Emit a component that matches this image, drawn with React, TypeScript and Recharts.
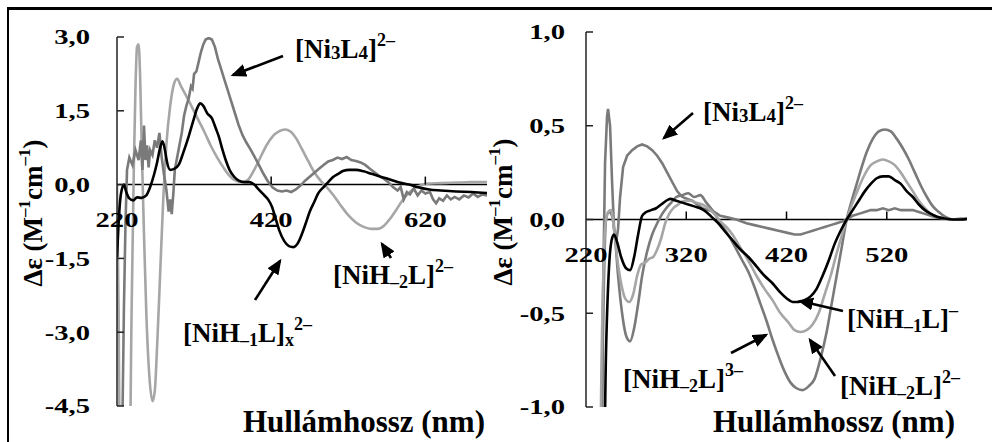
import React from 'react'
import { LineChart, Line, XAxis, YAxis, ReferenceLine } from 'recharts'

const SERIF = '"Liberation Serif", "Times New Roman", serif'
const BLACK = '#000000'
const DARK = '#7a7a7a'
const LIGHT = '#a6a6a6'

// ---- left panel: Δε vs wavelength, 220–700 nm ----
const leftTicksX = [220, 420, 620]
const leftTicksY = [-4.5, -3, -1.5, 0, 1.5, 3]

const nih1xNm = [220, 222, 225, 229, 232, 236, 241, 246, 252, 258, 263, 268, 272, 276, 279, 282, 285, 289, 294, 300, 306, 313, 319, 324, 328, 332, 337, 343, 348, 352, 357, 361, 366, 372, 378, 385, 392, 398, 404, 410, 416, 421, 426, 431, 437, 443, 449, 455, 460, 465, 470, 476, 481, 488, 494, 500, 507, 514, 521, 530, 540, 550, 560, 573, 585, 599, 612, 625, 640, 660, 680, 700]
const nih1xDe = [-1.47, -0.8, -0.2, 0.0, -0.15, -0.28, -0.32, -0.26, -0.27, -0.22, -0.05, 0.2, 0.45, 0.75, 0.88, 0.72, 0.45, 0.3, 0.32, 0.4, 0.65, 0.98, 1.3, 1.55, 1.65, 1.6, 1.45, 1.35, 1.15, 0.98, 0.7, 0.5, 0.3, 0.16, 0.08, 0.05, 0.05, 0.0, -0.1, -0.2, -0.3, -0.45, -0.7, -0.95, -1.15, -1.25, -1.27, -1.18, -1.0, -0.78, -0.55, -0.35, -0.18, -0.05, 0.05, 0.15, 0.22, 0.28, 0.3, 0.3, 0.27, 0.22, 0.17, 0.11, 0.05, 0.0, -0.06, -0.1, -0.12, -0.14, -0.15, -0.17]

const nih2LeftNm = [220, 222, 224, 236, 239, 242, 244, 246, 248, 250, 252, 255, 258, 262, 266, 269, 272, 276, 280, 284, 289, 294, 298, 303, 310, 318, 326, 334, 342, 350, 358, 366, 374, 382, 390, 398, 406, 414, 422, 430, 438, 445, 452, 460, 468, 476, 484, 492, 500, 510, 520, 530, 540, 550, 558, 566, 574, 582, 590, 598, 606, 615, 622, 640, 660, 680, 700]
const nih2LeftDe = [0.0, -2.5, -6, -6, -2.5, 0.5, 2.0, 2.8, 2.85, 2.2, 0.8, -1.0, -2.6, -3.9, -4.4, -4.2, -3.3, -1.8, -0.3, 0.8, 1.6, 2.05, 2.15, 2.0, 1.8, 1.55, 1.3, 1.05, 0.78, 0.55, 0.35, 0.18, 0.08, 0.05, 0.1, 0.3, 0.55, 0.8, 0.98, 1.08, 1.12, 1.08, 0.95, 0.72, 0.48, 0.25, 0.08, -0.05, -0.2, -0.42, -0.62, -0.77, -0.86, -0.9, -0.9, -0.84, -0.7, -0.52, -0.33, -0.18, -0.07, -0.01, 0.02, 0.03, 0.04, 0.05, 0.05]

const ni3l4LeftNm = [220, 226, 229, 231, 233, 236, 240, 244, 248, 251, 253, 255, 257, 259, 261, 263, 266, 269, 272, 275, 278, 281, 284, 287, 289, 291, 293, 295, 298, 301, 304, 307, 310, 313, 316, 318, 320, 323, 326, 329, 332, 335, 339, 343, 347, 351, 355, 359, 363, 368, 373, 378, 383, 388, 393, 398, 404, 410, 416, 422, 428, 434, 440, 446, 452, 458, 464, 470, 476, 482, 488, 494, 500, 506, 512, 518, 524, 530, 536, 542, 548, 554, 560, 566, 572, 578, 584, 588, 592, 596, 600, 605, 610, 615, 620, 626, 630, 634, 638, 643, 648, 653, 658, 664, 670, 676, 682, 688, 694, 700]
const ni3l4LeftDe = [-6, -6, -2.5, -0.8, 0.3, 0.55, 0.4, 0.7, 0.5, 0.9, 0.3, 1.2, 0.5, 0.8, 0.35, 0.7, 0.6, 0.9, 0.75, 1.05, 0.55, 0.2, -0.1, -0.55, -0.3, -0.6, -0.2, 0.3, 0.55, 0.8, 1.05, 1.4, 1.6, 1.75, 2.0, 1.95, 2.25, 2.3, 2.5, 2.7, 2.85, 2.95, 2.98, 2.95, 2.8, 2.55, 2.35, 2.15, 1.95, 1.7, 1.45, 1.2, 1.0, 0.85, 0.72, 0.58, 0.4, 0.22, 0.06, -0.06, -0.12, -0.14, -0.12, -0.15, -0.1, -0.02, 0.08, 0.16, 0.24, 0.32, 0.4, 0.47, 0.5, 0.55, 0.52, 0.56, 0.5, 0.48, 0.45, 0.4, 0.32, 0.25, 0.18, 0.12, 0.05, -0.05, -0.12, -0.05, -0.3, -0.15, -0.2, -0.08, -0.22, -0.12, -0.18, -0.15, -0.3, -0.38, -0.28, -0.33, -0.22, -0.3, -0.25, -0.3, -0.22, -0.26, -0.18, -0.25, -0.2, -0.22]

// ---- right panel: Δε vs wavelength, 220–600 nm ----
const rightTicksX = [220, 320, 420, 520]
const rightTicksY = [-1, -0.5, 0, 0.5, 1]

const nih1RightNm = [220, 236, 240, 243, 246, 248, 251, 255, 260, 264, 268, 272, 276, 280, 285, 290, 295, 300, 304, 310, 316, 322, 328, 334, 340, 346, 352, 358, 366, 374, 382, 390, 398, 406, 414, 420, 426, 432, 438, 444, 450, 456, 462, 468, 474, 480, 486, 492, 498, 504, 510, 516, 522, 528, 534, 540, 546, 552, 558, 564, 570, 578, 586, 594, 600]
const nih1RightDe = [-2, -2, -0.7, -0.25, -0.1, -0.08, -0.12, -0.2, -0.26, -0.27, -0.2, -0.08, 0.02, 0.04, 0.05, 0.06, 0.08, 0.1, 0.11, 0.1, 0.09, 0.08, 0.07, 0.06, 0.04, 0.01, -0.02, -0.06, -0.11, -0.16, -0.2, -0.25, -0.3, -0.34, -0.39, -0.42, -0.44, -0.44, -0.43, -0.41, -0.37, -0.3, -0.22, -0.13, -0.06, 0.0, 0.05, 0.1, 0.15, 0.19, 0.22, 0.23, 0.23, 0.21, 0.19, 0.15, 0.12, 0.08, 0.05, 0.03, 0.015, 0.005, 0.0, 0.0, 0.005]

const nih2RightNm = [220, 232, 236, 239, 242, 245, 248, 251, 255, 259, 263, 267, 271, 275, 279, 283, 287, 291, 295, 299, 303, 307, 312, 318, 324, 330, 336, 342, 348, 354, 360, 366, 374, 382, 390, 398, 406, 414, 422, 428, 434, 440, 446, 452, 458, 464, 470, 476, 480, 486, 492, 498, 504, 510, 516, 522, 528, 534, 540, 546, 552, 558, 564, 570, 578, 586, 600]
const nih2RightDe = [-2, -2, -0.6, -0.05, 0.04, 0.05, -0.05, -0.2, -0.34, -0.42, -0.44, -0.4, -0.3, -0.24, -0.23, -0.21, -0.2, -0.16, -0.1, -0.02, 0.03, 0.06, 0.08, 0.1, 0.1, 0.09, 0.08, 0.06, 0.03, -0.01, -0.04, -0.08, -0.15, -0.22, -0.3, -0.37, -0.43, -0.5, -0.55, -0.59, -0.6, -0.59, -0.56, -0.5, -0.4, -0.3, -0.18, -0.07, 0.0, 0.09, 0.17, 0.24, 0.29, 0.31, 0.32, 0.31, 0.29, 0.25, 0.2, 0.15, 0.1, 0.06, 0.03, 0.015, 0.005, 0.0, 0.0]

const nih2TriNm = [220, 234, 237, 240, 243, 246, 249, 252, 256, 260, 264, 268, 272, 276, 281, 286, 291, 296, 300, 305, 310, 316, 322, 328, 334, 340, 346, 352, 358, 364, 370, 376, 382, 388, 394, 400, 406, 412, 418, 424, 430, 436, 442, 448, 454, 460, 465, 470, 475, 480, 485, 490, 495, 500, 506, 512, 518, 524, 530, 536, 542, 548, 554, 560, 566, 572, 578, 586, 594, 600]
const nih2TriDe = [-2, -2, -0.6, 0.0, 0.04, 0.02, -0.1, -0.3, -0.5, -0.62, -0.65, -0.58, -0.45, -0.3, -0.17, -0.08, -0.02, 0.03, 0.06, 0.09, 0.12, 0.13, 0.14, 0.12, 0.13, 0.09, 0.05, 0.0, -0.05, -0.1, -0.16, -0.22, -0.28, -0.36, -0.45, -0.54, -0.64, -0.73, -0.81, -0.87, -0.9, -0.91, -0.89, -0.85, -0.74, -0.6, -0.45, -0.3, -0.15, 0.0, 0.1, 0.19, 0.28, 0.36, 0.43, 0.47, 0.48, 0.47, 0.43, 0.38, 0.32, 0.25, 0.18, 0.12, 0.07, 0.04, 0.015, 0.0, 0.005, 0.0]

const ni3l4RightNm = [220, 234, 237, 239, 241, 242, 244, 246, 248, 250, 252, 254, 257, 261, 266, 271, 276, 281, 286, 291, 296, 301, 306, 311, 316, 321, 326, 331, 336, 342, 348, 354, 362, 370, 380, 388, 396, 404, 412, 420, 428, 434, 440, 446, 452, 458, 464, 470, 476, 480, 486, 492, 498, 504, 510, 516, 522, 528, 534, 540, 546, 552, 558, 564, 570, 578, 586, 600]
const ni3l4RightDe = [-2, -2, -0.4, 0.3, 0.55, 0.59, 0.5, 0.2, -0.05, -0.12, -0.05, 0.12, 0.28, 0.34, 0.37, 0.39, 0.4, 0.39, 0.37, 0.34, 0.3, 0.25, 0.2, 0.15, 0.12, 0.11, 0.1, 0.08, 0.06, 0.05, 0.04, 0.02, 0.01, 0.0, -0.02, -0.03, -0.04, -0.05, -0.06, -0.07, -0.08, -0.08, -0.07, -0.06, -0.05, -0.04, -0.03, -0.02, -0.01, 0.0, 0.02, 0.03, 0.04, 0.05, 0.05, 0.06, 0.05, 0.06, 0.05, 0.05, 0.05, 0.04, 0.03, 0.02, 0.01, 0.005, 0.0, 0.0]

const toPoints = (nm: number[], de: number[]) => nm.map((w, i) => ({ nm: w, de: de[i] }))

const fmtTick = (v: number) => v.toFixed(1).replace('.', ',')

// plot geometry of the two panels (inside their own svg)
const L = { w: 500, h: 442, top: 37, bottom: 36, axisX: 117, right: 13, yMin: -4.5, yMax: 3, xMax: 700, labelGap: 27 }
const R = { w: 492, h: 442, top: 32, bottom: 35, axisX: 86, right: 25, yMin: -1, yMax: 1, xMax: 600, labelGap: 21 }

const zeroOf = (p: typeof L) => p.top + ((p.h - p.top - p.bottom) * p.yMax) / (p.yMax - p.yMin)

const tickFont = { fontFamily: SERIF, fontWeight: 700, fontSize: 22, fill: '#000' }

const makeXTick = (p: typeof L) => (props: any) => {
  const { x, payload } = props
  const zy = zeroOf(p)
  return (
    <g>
      {payload.value !== 220 && <line x1={x} x2={x} y1={zy - 8} y2={zy} stroke="#000" strokeWidth={1.5} />}
      <text transform={`translate(${x},${zy + 35}) scale(1.3,1)`} textAnchor="middle" dominantBaseline="central" {...tickFont}>
        {payload.value}
      </text>
    </g>
  )
}

const makeYTick = (p: typeof L) => (props: any) => {
  const { y, payload } = props
  return (
    <g>
      <line x1={p.axisX} x2={p.axisX + 7} y1={y} y2={y} stroke="#222" strokeWidth={1.5} />
      <text transform={`translate(${p.axisX - p.labelGap},${y}) scale(1.3,1)`} textAnchor="end" dominantBaseline="central" {...tickFont}>
        {fmtTick(payload.value)}
      </text>
    </g>
  )
}

type Curve = { nm: number[]; de: number[]; color: string; width: number; smooth: boolean }

function Panel({ p, ticksX, ticksY, curves }: { p: typeof L; ticksX: number[]; ticksY: number[]; curves: Curve[] }) {
  return (
    <LineChart width={p.w} height={p.h} margin={{ top: p.top, right: p.right, bottom: p.bottom - 1, left: 0 }}>
      <XAxis
        type="number"
        dataKey="nm"
        domain={[220, p.xMax]}
        ticks={ticksX}
        allowDataOverflow
        height={1}
        axisLine={false}
        tickLine={false}
        tick={makeXTick(p)}
      />
      <YAxis
        type="number"
        dataKey="de"
        domain={[p.yMin, p.yMax]}
        ticks={ticksY}
        allowDataOverflow
        width={p.axisX}
        tickSize={0}
        tickLine={false}
        axisLine={{ stroke: '#222', strokeWidth: 1.5 }}
        tick={makeYTick(p)}
      />
      <ReferenceLine y={0} stroke="#000" strokeWidth={1.5} />
      {curves.map((c, i) => (
        <Line
          key={i}
          data={toPoints(c.nm, c.de)}
          dataKey="de"
          type={c.smooth ? 'monotone' : 'linear'}
          stroke={c.color}
          strokeWidth={c.width}
          dot={false}
          isAnimationActive={false}
        />
      ))}
    </LineChart>
  )
}

const labelFont = { fontFamily: SERIF, fontWeight: 700, fill: '#000' }

function Species({ x, y, head, sub, tail, sup, subAfter }: { x: number; y: number; head: string; sub: string; tail: string; sup: string; subAfter?: string }) {
  return (
    <text x={x} y={y} fontSize={27} {...labelFont}>
      {head}
      <tspan fontSize={18} dy={4}>{sub}</tspan>
      <tspan dy={-4}>{tail}</tspan>
      {subAfter ? <tspan fontSize={18} dy={4}>{subAfter}</tspan> : null}
      <tspan fontSize={18} dy={subAfter ? -16 : -12}>{sup}</tspan>
    </text>
  )
}

function Ni3L4({ x, y }: { x: number; y: number }) {
  return (
    <text x={x} y={y} fontSize={27} {...labelFont}>
      [Ni<tspan fontSize={19} dy={1}>3</tspan>
      <tspan dy={-1}>L</tspan>
      <tspan fontSize={19} dy={1}>4</tspan>
      <tspan dy={-1}>]</tspan>
      <tspan fontSize={18} dy={-12}>2–</tspan>
    </text>
  )
}

function Arrow({ x1, y1, x2, y2 }: { x1: number; y1: number; x2: number; y2: number }) {
  return <line x1={x1} y1={y1} x2={x2} y2={y2} stroke="#000" strokeWidth={2.6} markerEnd="url(#head)" />
}

function AxisTitleY({ cx, cy }: { cx: number; cy: number }) {
  return (
    <text transform={`translate(${cx},${cy}) rotate(-90)`} textAnchor="middle" dominantBaseline="central" fontSize={27} {...labelFont}>
      Δε (M<tspan fontSize={17} dy={-9}>–1</tspan>
      <tspan dy={9}>cm</tspan>
      <tspan fontSize={17} dy={-9}>–1</tspan>
      <tspan dy={9}>)</tspan>
    </text>
  )
}

export default function App() {
  return (
    <div style={{ position: 'absolute', left: 0, top: 0, width: 992, height: 442, background: '#fff', overflow: 'hidden' }}>
      <div style={{ position: 'absolute', left: 0, top: 0 }}>
        <Panel
          p={L}
          ticksX={leftTicksX}
          ticksY={leftTicksY}
          curves={[
            { nm: nih2LeftNm, de: nih2LeftDe, color: LIGHT, width: 2.6, smooth: true },
            { nm: ni3l4LeftNm, de: ni3l4LeftDe, color: DARK, width: 2.6, smooth: false },
            { nm: nih1xNm, de: nih1xDe, color: BLACK, width: 2.6, smooth: true },
          ]}
        />
      </div>
      <div style={{ position: 'absolute', left: 500, top: 0 }}>
        <Panel
          p={R}
          ticksX={rightTicksX}
          ticksY={rightTicksY}
          curves={[
            { nm: ni3l4RightNm, de: ni3l4RightDe, color: DARK, width: 2.6, smooth: false },
            { nm: nih2TriNm, de: nih2TriDe, color: DARK, width: 2.6, smooth: true },
            { nm: nih2RightNm, de: nih2RightDe, color: LIGHT, width: 2.6, smooth: true },
            { nm: nih1RightNm, de: nih1RightDe, color: BLACK, width: 2.6, smooth: true },
          ]}
        />
      </div>
      <svg width={992} height={442} style={{ position: 'absolute', left: 0, top: 0, pointerEvents: 'none' }}>
        <defs>
          <marker id="head" markerWidth="6" markerHeight="5" refX="5" refY="2.5" orient="auto" markerUnits="strokeWidth">
            <path d="M0,0 L6,2.5 L0,5 z" fill="#000" />
          </marker>
        </defs>
        {/* frame */}
        <line x1={7} y1={8.5} x2={992} y2={8.5} stroke="#000" strokeWidth={3} />
        <line x1={8} y1={7} x2={8} y2={442} stroke="#000" strokeWidth={2} />

        <AxisTitleY cx={33} cy={213} />
        <AxisTitleY cx={503} cy={212} />
        <text x={243} y={432} fontSize={31} {...labelFont}>Hullámhossz (nm)</text>
        <text x={713} y={432} fontSize={31} {...labelFont}>Hullámhossz (nm)</text>

        {/* left panel labels */}
        <Ni3L4 x={295} y={58} />
        <Arrow x1={283} y1={56} x2={233} y2={75} />
        <Species x={183} y={342} head="[NiH" sub="–1" tail="L]" subAfter="x" sup="2–" />
        <Arrow x1={255} y1={300} x2={280} y2={261} />
        <Species x={333} y={284} head="[NiH" sub="–2" tail="L]" sup="2–" />
        <Arrow x1={391} y1={258} x2={382} y2={244} />

        {/* right panel labels */}
        <Ni3L4 x={703} y={121} />
        <Arrow x1={693} y1={113} x2={664} y2={138} />
        <Species x={847} y={328} head="[NiH" sub="–1" tail="L]" sup="–" />
        <Arrow x1={843} y1={311} x2={800} y2={301} />
        <Species x={840} y={395} head="[NiH" sub="–2" tail="L]" sup="2–" />
        <Arrow x1={835} y1={376} x2={810} y2={340} />
        <Species x={623} y={388} head="[NiH" sub="–2" tail="L]" sup="3–" />
        <Arrow x1={731} y1={353} x2={766} y2={335} />
      </svg>
    </div>
  )
}
